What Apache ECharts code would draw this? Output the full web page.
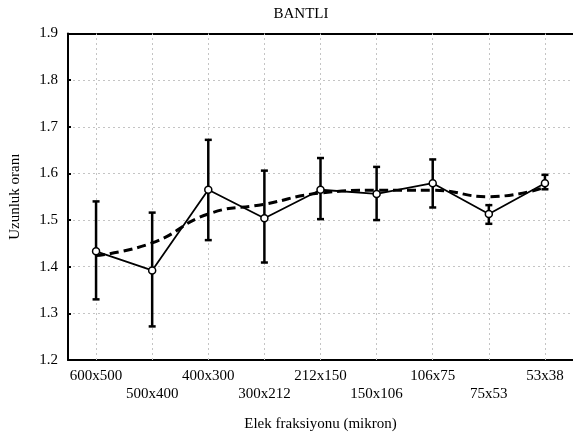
<!DOCTYPE html>
<html>
<head>
<meta charset="utf-8">
<script src="https://cdn.jsdelivr.net/npm/echarts@6/dist/echarts.min.js"></script>
<style>
  html, body { margin: 0; padding: 0; background: #fff; }
  #main { width: 573px; height: 437px; }
</style>
</head>
<body>
<div id="main"></div>
<script>
// veriler
var categories = ['600x500', '500x400', '400x300', '300x212', '212x150', '150x106', '106x75', '75x53', '53x38'];
var means = [1.433, 1.392, 1.565, 1.504, 1.565, 1.556, 1.579, 1.513, 1.579];
var lows  = [1.330, 1.272, 1.457, 1.409, 1.502, 1.500, 1.527, 1.492, 1.566];
var highs = [1.540, 1.516, 1.672, 1.606, 1.633, 1.614, 1.630, 1.532, 1.597];
var trend = [1.424, 1.451, 1.513, 1.534, 1.558, 1.564, 1.564, 1.550, 1.570];

var font = 'Liberation Serif';
var gridColor = '#c4c4c4';

var errData = categories.map(function (c, i) { return [i, lows[i], highs[i]]; });

var myChart = echarts.init(document.getElementById('main'));

var option = {
	animation: false,
	textStyle: { fontFamily: font, color: '#000' },
	title: {
		text: 'BANTLI',
		left: 296,
		top: 2,
		textAlign: 'center',
		textStyle: { fontFamily: font, fontSize: 15, fontWeight: 'normal', color: '#000' }
	},
	grid: {
		left: 65,
		top: 33.5,
		width: 513,
		height: 328.5,
		containLabel: false
	},
	xAxis: [{
		type: 'category',
		data: categories,
		position: 'bottom',
		name: 'Elek fraksiyonu (mikron)',
		nameLocation: 'middle',
		nameGap: 57,
		nameTextStyle: { fontFamily: font, fontSize: 15, color: '#000' },
		axisLine: { lineStyle: { color: '#000', width: 2 } },
		axisTick: { inside: true, alignWithLabel: true, length: 3, lineStyle: { color: '#000', width: 2 } },
		axisLabel: {
			interval: 0,
			margin: 7,
			fontFamily: font,
			fontSize: 15,
			lineHeight: 18,
			color: '#000',
			formatter: function (v, i) { return i % 2 ? '\n' + v : v; }
		},
		splitLine: { show: false }
	}, {
		type: 'category',
		data: categories,
		position: 'top',
		axisLine: { lineStyle: { color: '#000', width: 2 } },
		axisTick: { inside: true, alignWithLabel: true, length: 3, lineStyle: { color: '#000', width: 2 } },
		axisLabel: { show: false },
		splitLine: { show: false }
	}],
	yAxis: [{
		type: 'value',
		min: 1.2,
		max: 1.9,
		interval: 0.1,
		name: 'Uzunluk oranı',
		nameLocation: 'middle',
		nameGap: 45,
		nameTextStyle: { fontFamily: font, fontSize: 15, color: '#000' },
		axisLine: { show: true, lineStyle: { color: '#000', width: 2 } },
		axisTick: { show: true, inside: true, length: 3, lineStyle: { color: '#000', width: 2 } },
		axisLabel: {
			margin: 10,
			fontFamily: font,
			fontSize: 15,
			color: '#000',
			formatter: function (v) { return v.toFixed(1); }
		},
		splitLine: { show: true, lineStyle: { color: gridColor, width: 1, type: [2, 3] } }
	}],
	series: [{
		// dikey kılavuz çizgileri
		type: 'line',
		data: [],
		z: 1,
		silent: true,
		markLine: {
			silent: true,
			z: 1,
			symbol: ['none', 'none'],
			label: { show: false },
			lineStyle: { color: gridColor, width: 1, type: [2, 3] },
			data: categories.map(function (c) { return { xAxis: c }; })
		}
	}, {
		name: 'trend',
		type: 'line',
		data: trend,
		smooth: 0.5,
		symbol: 'none',
		z: 10,
		lineStyle: { color: '#000', width: 3, type: [9, 5] }
	}, {
		name: 'hata',
		type: 'custom',
		data: errData,
		z: 11,
		renderItem: function (params, api) {
			var x = api.value(0);
			var lo = api.coord([x, api.value(1)]);
			var hi = api.coord([x, api.value(2)]);
			var w = 3.5;
			var st = { stroke: '#000', lineWidth: 2.5 };
			return {
				type: 'group',
				children: [
					{ type: 'line', shape: { x1: lo[0], y1: lo[1], x2: hi[0], y2: hi[1] }, style: st },
					{ type: 'line', shape: { x1: lo[0] - w, y1: lo[1], x2: lo[0] + w, y2: lo[1] }, style: st },
					{ type: 'line', shape: { x1: hi[0] - w, y1: hi[1], x2: hi[0] + w, y2: hi[1] }, style: st }
				]
			};
		}
	}, {
		name: 'ortalama',
		type: 'line',
		data: means,
		z: 12,
		symbol: 'circle',
		symbolSize: 7,
		lineStyle: { color: '#000', width: 1.8 },
		itemStyle: { color: '#fff', borderColor: '#000', borderWidth: 1.5 }
	}]
};

myChart.setOption(option);
</script>
</body>
</html>
